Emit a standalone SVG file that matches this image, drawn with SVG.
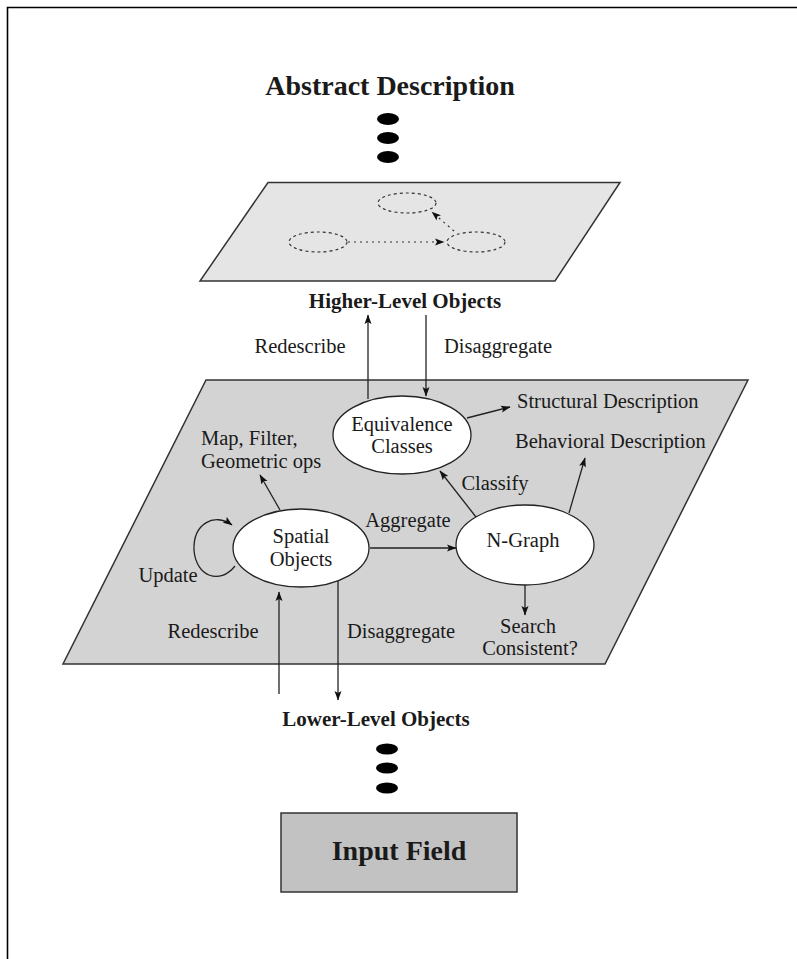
<svg xmlns="http://www.w3.org/2000/svg" width="797" height="959" viewBox="0 0 797 959">
<defs>
<marker id="ah" markerWidth="10" markerHeight="8" refX="9" refY="4" orient="auto" markerUnits="userSpaceOnUse">
<path d="M0,0.5 L9.5,4 L0,7.5 L2,4 Z" fill="#111"/>
</marker>
<marker id="ahs" markerWidth="10" markerHeight="8" refX="9" refY="4" orient="auto" markerUnits="userSpaceOnUse">
<path d="M0,0.5 L9.5,4 L0,7.5 L2,4 Z" fill="#111"/>
</marker>
</defs>
<style>
.t{font-family:"Liberation Serif",serif;font-size:20.5px;fill:#1a1a1a}
.b{font-family:"Liberation Serif",serif;font-weight:bold;fill:#1a1a1a}
.m{text-anchor:middle}
.node{fill:#fff;stroke:#222;stroke-width:1.3}
.c{fill:none;stroke:#222;stroke-width:1.3}
.dash{fill:none;stroke:#333;stroke-width:1.2;stroke-dasharray:3,3}
.dot{fill:none;stroke:#333;stroke-width:1.2;stroke-dasharray:2,4}
.dots{fill:#000}
</style>
<path d="M7.5,959 L7.5,7.5 L797,7.5" fill="none" stroke="#000" stroke-width="1.6"/>

<g id="abstract">
<text class="b m" x="390" y="95" font-size="28">Abstract Description</text>
<ellipse class="dots" cx="388" cy="119" rx="11" ry="6"/>
<ellipse class="dots" cx="388" cy="138" rx="11" ry="6"/>
<ellipse class="dots" cx="388" cy="157" rx="11" ry="6"/>
</g>

<g id="higher-plane">
<polygon points="268,182.5 620,182.5 555,281 200,281" fill="#e5e5e5" stroke="#333" stroke-width="1.5"/>
<ellipse class="dash" cx="407" cy="203" rx="29" ry="10"/>
<ellipse class="dash" cx="318" cy="242" rx="29" ry="10"/>
<ellipse class="dash" cx="476" cy="242" rx="29" ry="10"/>
<line class="dot" x1="348" y1="242" x2="444" y2="242" marker-end="url(#ahs)"/>
<line class="dot" x1="454" y1="231" x2="432" y2="212" marker-end="url(#ahs)"/>
<text class="b m" x="405" y="308" font-size="21">Higher-Level Objects</text>
</g>

<g id="middle-plane">
<polygon points="206,380 748,380 605,664 63,664" fill="#d3d3d3" stroke="#333" stroke-width="1.5"/>
</g>

<g id="connectors">
<line class="c" x1="368" y1="399" x2="368" y2="315" marker-end="url(#ah)"/>
<line class="c" x1="426" y1="315" x2="426" y2="396" marker-end="url(#ah)"/>
<line class="c" x1="467" y1="418" x2="510" y2="407" marker-end="url(#ah)"/>
<line class="c" x1="280" y1="510" x2="260" y2="475" marker-end="url(#ah)"/>
<path class="c" d="M235,566 C220,585 196,577 194,550 C193,524 214,512 232,525" marker-end="url(#ah)"/>
<line class="c" x1="370" y1="548" x2="456" y2="548" marker-end="url(#ah)"/>
<line class="c" x1="476" y1="517" x2="440" y2="471" marker-end="url(#ah)"/>
<line class="c" x1="569" y1="513" x2="585" y2="458" marker-end="url(#ah)"/>
<line class="c" x1="525" y1="585" x2="525" y2="615" marker-end="url(#ah)"/>
<line class="c" x1="279" y1="694" x2="279" y2="592" marker-end="url(#ah)"/>
<line class="c" x1="338" y1="581" x2="338" y2="700" marker-end="url(#ah)"/>
</g>

<g id="labels">
<text class="t m" x="300" y="353">Redescribe</text>
<text class="t m" x="498" y="353">Disaggregate</text>
<text class="t" x="517" y="408">Structural Description</text>
<text class="t" x="515" y="448">Behavioral Description</text>
<text class="t" x="201" y="445">Map, Filter,</text>
<text class="t" x="201" y="468">Geometric ops</text>
<text class="t m" x="408" y="527">Aggregate</text>
<text class="t m" x="495" y="490">Classify</text>
<text class="t m" x="168" y="582">Update</text>
<text class="t m" x="528" y="633">Search</text>
<text class="t m" x="530" y="655">Consistent?</text>
<text class="t m" x="213" y="638">Redescribe</text>
<text class="t m" x="401" y="638">Disaggregate</text>
</g>

<g id="equivalence-classes">
<ellipse class="node" cx="402" cy="435" rx="69" ry="39"/>
<text class="t m" x="402" y="431">Equivalence</text>
<text class="t m" x="402" y="453">Classes</text>
</g>

<g id="spatial-objects">
<ellipse class="node" cx="301" cy="548" rx="68" ry="39"/>
<text class="t m" x="301" y="543">Spatial</text>
<text class="t m" x="301" y="566">Objects</text>
</g>

<g id="n-graph">
<ellipse class="node" cx="525" cy="545" rx="69" ry="40"/>
<text class="t m" x="523" y="547">N-Graph</text>
</g>

<g id="lower">
<text class="b m" x="376" y="726" font-size="21">Lower-Level Objects</text>
<ellipse class="dots" cx="387" cy="749" rx="11" ry="5.5"/>
<ellipse class="dots" cx="387" cy="768" rx="11" ry="5.5"/>
<ellipse class="dots" cx="387" cy="788" rx="11" ry="5.5"/>
</g>

<g id="input-field">
<rect x="281" y="813" width="236" height="79" fill="#c2c2c2" stroke="#333" stroke-width="1.5"/>
<text class="b m" x="399" y="860" font-size="28">Input Field</text>
</g>
</svg>
